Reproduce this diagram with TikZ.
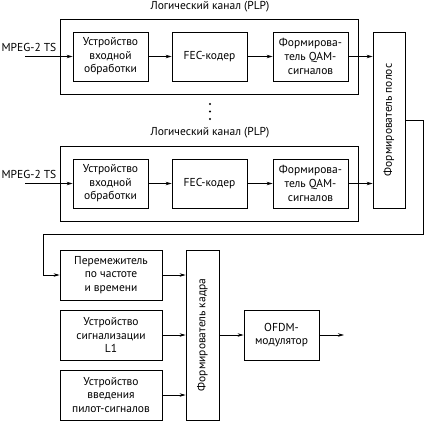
\documentclass[tikz,border=0pt]{standalone}
\usepackage{fontspec}
\setmainfont{PT Sans}
\usetikzlibrary{arrows.meta, positioning, calc}

\begin{document}
\begin{tikzpicture}[x=1pt, y=-1pt, line width=0.8pt,
    every node/.style={font=\fontsize{11.5}{13.6}\selectfont, align=center, inner sep=0pt},
    blk/.style={draw, minimum width=75pt, minimum height=49pt},
    wblk/.style={draw, minimum width=102pt, minimum height=50pt},
    chan/.style={draw, minimum width=298pt, minimum height=75pt},
    vblk/.style={draw, minimum width=32pt},
    sig/.style={-{Stealth[length=6pt, width=3.5pt]}}]
  \useasboundingbox (0,0) rectangle (424,421);

  % first logical channel
  \node (tit1) at (210,7) {Логический канал (PLP)};
  \node[chan] (plp1) at (209,56.5) {};
  \node[blk] (inp1) at (110.5,56.5) {Устройство\\входной\\обработки};
  \node[blk] (fec1) at (209.5,56.5) {FEC-кодер};
  \node[blk] (qam1) at (310.5,56.5) {Формирова-\\тель QAM-\\сигналов};
  \node (ts1) at (29,47) {MPEG-2 TS};
  \coordinate (src1) at (25,56.5);

  % dots between channels
  \foreach \yy in {104,111.5,119}
    \fill (210,\yy) circle (1.1pt);

  % second logical channel
  \node (tit2) at (210,133) {Логический канал (PLP)};
  \node[chan] (plp2) at (209,183.5) {};
  \node[blk] (inp2) at (110.5,183.5) {Устройство\\входной\\обработки};
  \node[blk] (fec2) at (209.5,183.5) {FEC-кодер};
  \node[blk] (qam2) at (310.5,183.5) {Формирова-\\тель QAM-\\сигналов};
  \node (ts2) at (29,174) {MPEG-2 TS};
  \coordinate (src2) at (25,183.5);

  \node[vblk, minimum height=176pt] (polos) at (389,120)
    {\rotatebox{90}{Формирователь полос}};

  % frame part
  \node[wblk] (perem) at (111,275) {Перемежитель\\по частоте\\и времени};
  \node[wblk] (l1) at (111,335) {Устройство\\сигнализации\\L1};
  \node[wblk] (pilot) at (111,395) {Устройство\\введения\\пилот-сигналов};
  \node[vblk, minimum width=33pt, minimum height=170pt] (kadr) at (202.5,335)
    {\rotatebox{90}{Формирователь кадра}};
  \node[blk, minimum height=50pt] (ofdm) at (281.5,335) {OFDM-\\модулятор};
  \coordinate (out) at (344,335);

  \draw[sig] (src1) -- (inp1);
  \draw[sig] (inp1) -- (fec1);
  \draw[sig] (fec1) -- (qam1);
  \draw[sig] (qam1.east) -- (qam1.east -| polos.west);
  \draw[sig] (src2) -- (inp2);
  \draw[sig] (inp2) -- (fec2);
  \draw[sig] (fec2) -- (qam2);
  \draw[sig] (qam2.east) -- (qam2.east -| polos.west);

  \draw[sig] (polos.east) -- (423,120) -- (423,234) -- (43,234)
    -- (43,275) -- (perem.west);
  \draw[sig] (perem.east) -- (perem.east -| kadr.west);
  \draw[sig] (l1.east) -- (l1.east -| kadr.west);
  \draw[sig] (pilot.east) -- (pilot.east -| kadr.west);
  \draw[sig] (kadr.east |- ofdm.west) -- (ofdm.west);
  \draw[sig] (ofdm.east) -- (out);
\end{tikzpicture}
\end{document}
